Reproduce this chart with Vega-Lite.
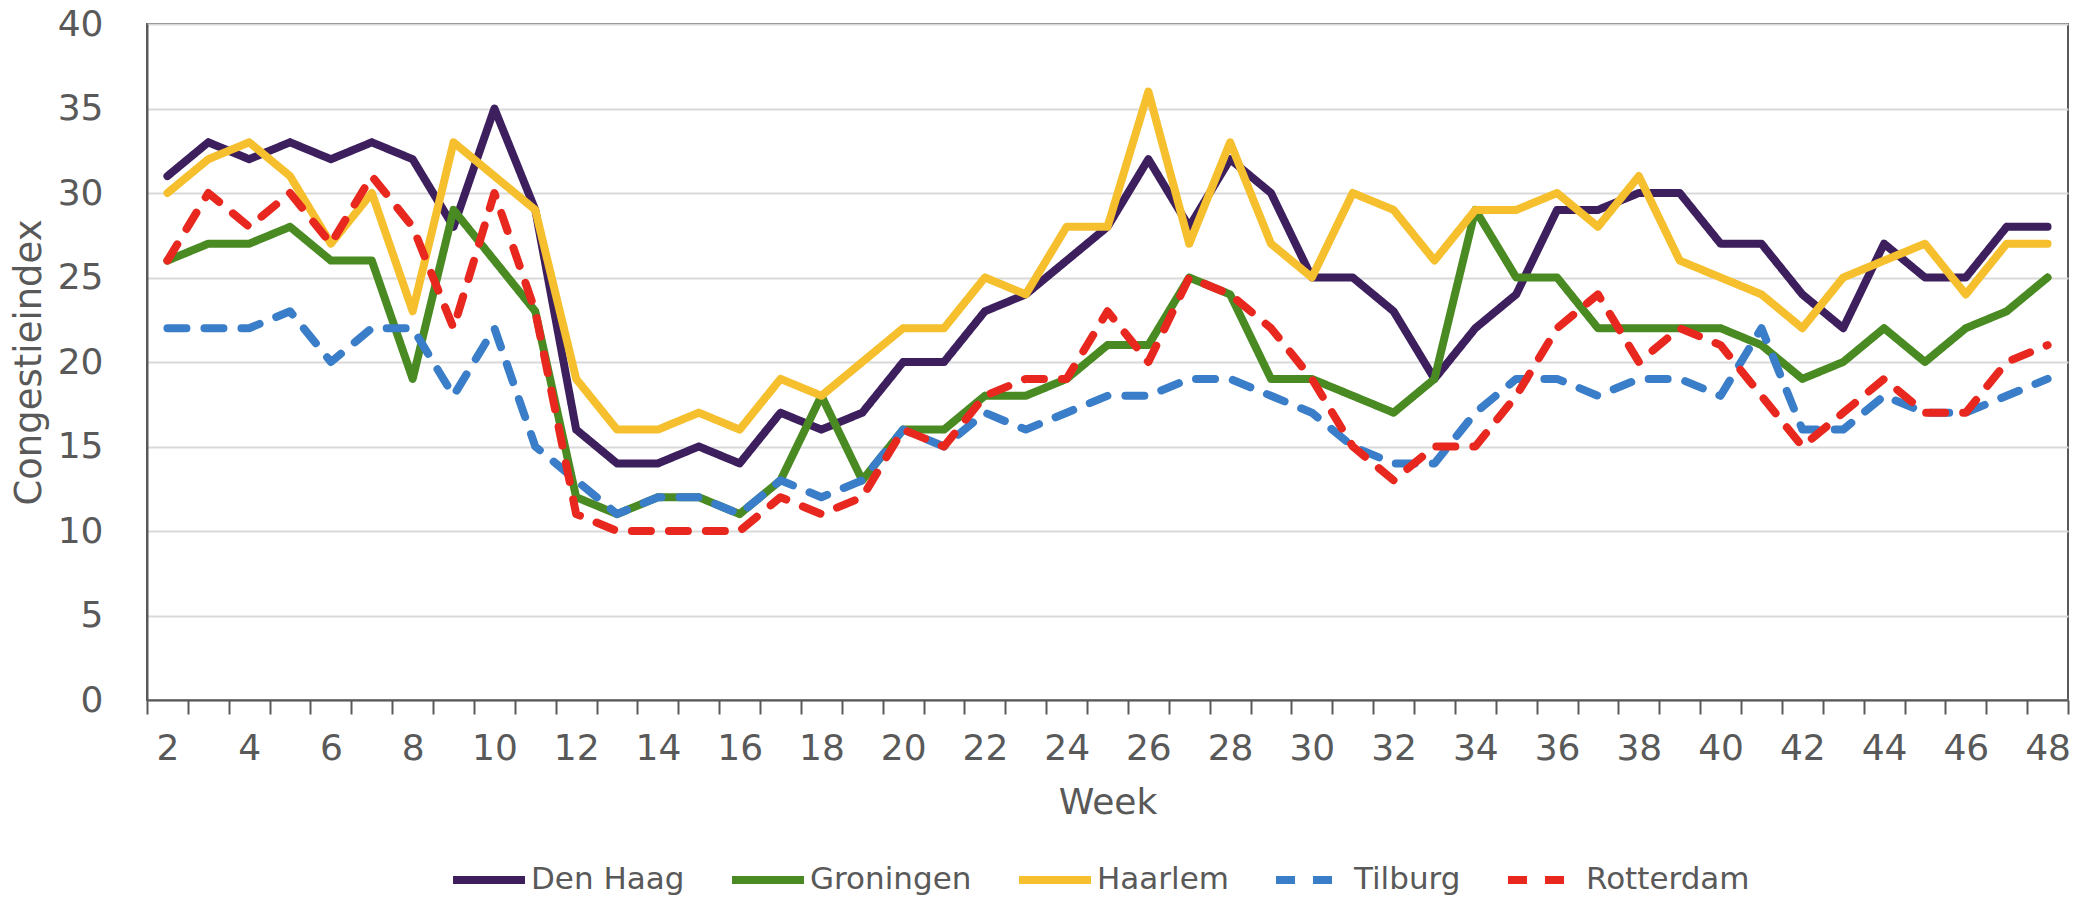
{
  "$schema": "https://vega.github.io/schema/vega-lite/v6.json",
  "width": 1921,
  "height": 676,
  "autosize": {"type": "none"},
  "padding": {"left": 147, "top": 24, "right": 15, "bottom": 198},
  "background": "white",
  "config": {
    "font": "DejaVu Sans",
    "view": {"stroke": "#595959", "strokeWidth": 2},
    "axis": {"labelColor": "#595959", "titleColor": "#595959", "labelFont": "DejaVu Sans", "titleFont": "DejaVu Sans", "titleFontWeight": "normal"},
    "legend": {"labelColor": "#595959", "labelFont": "DejaVu Sans"}
  },
  "data": {
    "values": [
      {"w":2,"Den Haag":31,"Groningen":26,"Haarlem":30,"Tilburg":22,"Rotterdam":26},
      {"w":3,"Den Haag":33,"Groningen":27,"Haarlem":32,"Tilburg":22,"Rotterdam":30},
      {"w":4,"Den Haag":32,"Groningen":27,"Haarlem":33,"Tilburg":22,"Rotterdam":28},
      {"w":5,"Den Haag":33,"Groningen":28,"Haarlem":31,"Tilburg":23,"Rotterdam":30},
      {"w":6,"Den Haag":32,"Groningen":26,"Haarlem":27,"Tilburg":20,"Rotterdam":27},
      {"w":7,"Den Haag":33,"Groningen":26,"Haarlem":30,"Tilburg":22,"Rotterdam":31},
      {"w":8,"Den Haag":32,"Groningen":19,"Haarlem":23,"Tilburg":22,"Rotterdam":28},
      {"w":9,"Den Haag":28,"Groningen":29,"Haarlem":33,"Tilburg":18,"Rotterdam":22},
      {"w":10,"Den Haag":35,"Groningen":26,"Haarlem":31,"Tilburg":22,"Rotterdam":30},
      {"w":11,"Den Haag":29,"Groningen":23,"Haarlem":29,"Tilburg":15,"Rotterdam":23},
      {"w":12,"Den Haag":16,"Groningen":12,"Haarlem":19,"Tilburg":13,"Rotterdam":11},
      {"w":13,"Den Haag":14,"Groningen":11,"Haarlem":16,"Tilburg":11,"Rotterdam":10},
      {"w":14,"Den Haag":14,"Groningen":12,"Haarlem":16,"Tilburg":12,"Rotterdam":10},
      {"w":15,"Den Haag":15,"Groningen":12,"Haarlem":17,"Tilburg":12,"Rotterdam":10},
      {"w":16,"Den Haag":14,"Groningen":11,"Haarlem":16,"Tilburg":11,"Rotterdam":10},
      {"w":17,"Den Haag":17,"Groningen":13,"Haarlem":19,"Tilburg":13,"Rotterdam":12},
      {"w":18,"Den Haag":16,"Groningen":18,"Haarlem":18,"Tilburg":12,"Rotterdam":11},
      {"w":19,"Den Haag":17,"Groningen":13,"Haarlem":20,"Tilburg":13,"Rotterdam":12},
      {"w":20,"Den Haag":20,"Groningen":16,"Haarlem":22,"Tilburg":16,"Rotterdam":16},
      {"w":21,"Den Haag":20,"Groningen":16,"Haarlem":22,"Tilburg":15,"Rotterdam":15},
      {"w":22,"Den Haag":23,"Groningen":18,"Haarlem":25,"Tilburg":17,"Rotterdam":18},
      {"w":23,"Den Haag":24,"Groningen":18,"Haarlem":24,"Tilburg":16,"Rotterdam":19},
      {"w":24,"Den Haag":26,"Groningen":19,"Haarlem":28,"Tilburg":17,"Rotterdam":19},
      {"w":25,"Den Haag":28,"Groningen":21,"Haarlem":28,"Tilburg":18,"Rotterdam":23},
      {"w":26,"Den Haag":32,"Groningen":21,"Haarlem":36,"Tilburg":18,"Rotterdam":20},
      {"w":27,"Den Haag":28,"Groningen":25,"Haarlem":27,"Tilburg":19,"Rotterdam":25},
      {"w":28,"Den Haag":32,"Groningen":24,"Haarlem":33,"Tilburg":19,"Rotterdam":24},
      {"w":29,"Den Haag":30,"Groningen":19,"Haarlem":27,"Tilburg":18,"Rotterdam":22},
      {"w":30,"Den Haag":25,"Groningen":19,"Haarlem":25,"Tilburg":17,"Rotterdam":19},
      {"w":31,"Den Haag":25,"Groningen":18,"Haarlem":30,"Tilburg":15,"Rotterdam":15},
      {"w":32,"Den Haag":23,"Groningen":17,"Haarlem":29,"Tilburg":14,"Rotterdam":13},
      {"w":33,"Den Haag":19,"Groningen":19,"Haarlem":26,"Tilburg":14,"Rotterdam":15},
      {"w":34,"Den Haag":22,"Groningen":29,"Haarlem":29,"Tilburg":17,"Rotterdam":15},
      {"w":35,"Den Haag":24,"Groningen":25,"Haarlem":29,"Tilburg":19,"Rotterdam":18},
      {"w":36,"Den Haag":29,"Groningen":25,"Haarlem":30,"Tilburg":19,"Rotterdam":22},
      {"w":37,"Den Haag":29,"Groningen":22,"Haarlem":28,"Tilburg":18,"Rotterdam":24},
      {"w":38,"Den Haag":30,"Groningen":22,"Haarlem":31,"Tilburg":19,"Rotterdam":20},
      {"w":39,"Den Haag":30,"Groningen":22,"Haarlem":26,"Tilburg":19,"Rotterdam":22},
      {"w":40,"Den Haag":27,"Groningen":22,"Haarlem":25,"Tilburg":18,"Rotterdam":21},
      {"w":41,"Den Haag":27,"Groningen":21,"Haarlem":24,"Tilburg":22,"Rotterdam":18},
      {"w":42,"Den Haag":24,"Groningen":19,"Haarlem":22,"Tilburg":16,"Rotterdam":15},
      {"w":43,"Den Haag":22,"Groningen":20,"Haarlem":25,"Tilburg":16,"Rotterdam":17},
      {"w":44,"Den Haag":27,"Groningen":22,"Haarlem":26,"Tilburg":18,"Rotterdam":19},
      {"w":45,"Den Haag":25,"Groningen":20,"Haarlem":27,"Tilburg":17,"Rotterdam":17},
      {"w":46,"Den Haag":25,"Groningen":22,"Haarlem":24,"Tilburg":17,"Rotterdam":17},
      {"w":47,"Den Haag":28,"Groningen":23,"Haarlem":27,"Tilburg":18,"Rotterdam":20},
      {"w":48,"Den Haag":28,"Groningen":25,"Haarlem":27,"Tilburg":19,"Rotterdam":21}
    ]
  },
  "transform": [
    {"fold": ["Den Haag", "Groningen", "Haarlem", "Tilburg", "Rotterdam"], "as": ["city", "value"]}
  ],
  "mark": {"type": "line", "strokeWidth": 8, "strokeCap": "round", "strokeJoin": "round"},
  "encoding": {
    "x": {
      "field": "w",
      "type": "ordinal",
      "bandPosition": 0.5,
      "scale": {"type": "band", "paddingInner": 0, "paddingOuter": 0},
      "axis": {
        "title": "Week",
        "titleFontSize": 36,
        "titlePadding": 19,
        "labelFontSize": 36,
        "labelAngle": 0,
        "labelPadding": 17,
        "labelOverlap": false,
        "labelExpr": "datum.value % 2 == 1 ? '' : datum.label",
        "tickBand": "extent",
        "tickSize": 14,
        "tickWidth": 2,
        "tickColor": "#595959",
        "domainColor": "#595959",
        "domainWidth": 2,
        "grid": false
      }
    },
    "y": {
      "field": "value",
      "type": "quantitative",
      "scale": {"domain": [0, 40], "nice": false},
      "axis": {
        "title": "Congestieindex",
        "titleFontSize": 37,
        "titlePadding": 9,
        "labelFontSize": 36,
        "labelPadding": 44,
        "values": [0, 5, 10, 15, 20, 25, 30, 35, 40],
        "ticks": false,
        "tickSize": 0,
        "grid": true,
        "gridColor": "#d9d9d9",
        "gridWidth": 2,
        "domainColor": "#595959",
        "domainWidth": 2
      }
    },
    "color": {
      "field": "city",
      "type": "nominal",
      "sort": ["Den Haag", "Groningen", "Haarlem", "Tilburg", "Rotterdam"],
      "scale": {
        "domain": ["Den Haag", "Groningen", "Haarlem", "Tilburg", "Rotterdam"],
        "range": ["#3d1f5e", "#4a8a22", "#f5bf2e", "#3a7dc8", "#e8281e"]
      },
      "legend": {
        "title": null,
        "orient": "none",
        "direction": "horizontal",
        "legendX": 302,
        "legendY": 816,
        "padding": 0,
        "symbolType": "stroke",
        "symbolSize": 5184,
        "symbolStrokeWidth": 8,
        "labelFontSize": 31,
        "labelOffset": 2,
        "columnPadding": 31,
        "labelLimit": 400
      }
    },
    "strokeDash": {
      "field": "city",
      "type": "nominal",
      "sort": ["Den Haag", "Groningen", "Haarlem", "Tilburg", "Rotterdam"],
      "scale": {
        "domain": ["Den Haag", "Groningen", "Haarlem", "Tilburg", "Rotterdam"],
        "range": [[1, 0], [1, 0], [1, 0], [19, 18], [19, 18]]
      },
      "legend": null
    }
  }
}
